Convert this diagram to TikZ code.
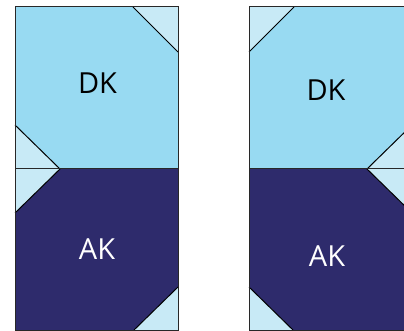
\documentclass[tikz,border=0pt]{standalone}
\usepackage{fontspec}
\setmainfont{Open Sans}
\definecolor{dkc}{RGB}{152,218,242}
\definecolor{tric}{RGB}{200,234,246}
\definecolor{akc}{RGB}{46,43,108}
\definecolor{edgec}{RGB}{40,40,40}
\begin{document}
\begin{tikzpicture}[x=1pt,y=-1pt,
  edge/.style={draw=edgec,line width=1pt,line join=miter},
  diag/.style={draw=black,line width=1pt},
  lbl/.style={font=\fontsize{29}{29}\selectfont,inner sep=0pt}]
\useasboundingbox (0,0) rectangle (404,331);
\begin{scope}
\clip (0,0) rectangle (404,331);
% left panel
\fill[dkc] (15,7) rectangle (178,169);
\fill[akc] (15,169) rectangle (178,330);
\fill[tric] (133,7) -- (178,7) -- (178,52) -- cycle;
\fill[tric] (15,125) -- (60,169) -- (15,213) -- cycle;
\fill[tric] (178,287) -- (178,330) -- (134,330) -- cycle;
\draw[diag] (133,7) -- (178,52);
\draw[diag] (15,125) -- (60,169) -- (15,213);
\draw[diag] (178,287) -- (134,330);
\draw[edge] (15,169) -- (178,169);
\draw[edge] (15,7) rectangle (178,330);
% right panel
\fill[dkc] (249,7) rectangle (412,169);
\fill[akc] (249,169) rectangle (412,330);
\fill[tric] (249,7) -- (294,7) -- (249,52) -- cycle;
\fill[tric] (412,125) -- (367,169) -- (412,213) -- cycle;
\fill[tric] (249,287) -- (249,330) -- (293,330) -- cycle;
\draw[diag] (294,7) -- (249,52);
\draw[diag] (412,125) -- (367,169) -- (412,213);
\draw[diag] (249,287) -- (293,330);
\draw[edge] (249,169) -- (412,169);
\draw[edge] (249,7) rectangle (412,330);
\end{scope}
\node[lbl,text=black] (dk1) at (97.5,83) {DK};
\node[lbl,text=white] (ak1) at (97,249) {AK};
\node[lbl,text=black] (dk2) at (326,90) {DK};
\node[lbl,text=white] (ak2) at (327,256) {AK};
\end{tikzpicture}
\end{document}
